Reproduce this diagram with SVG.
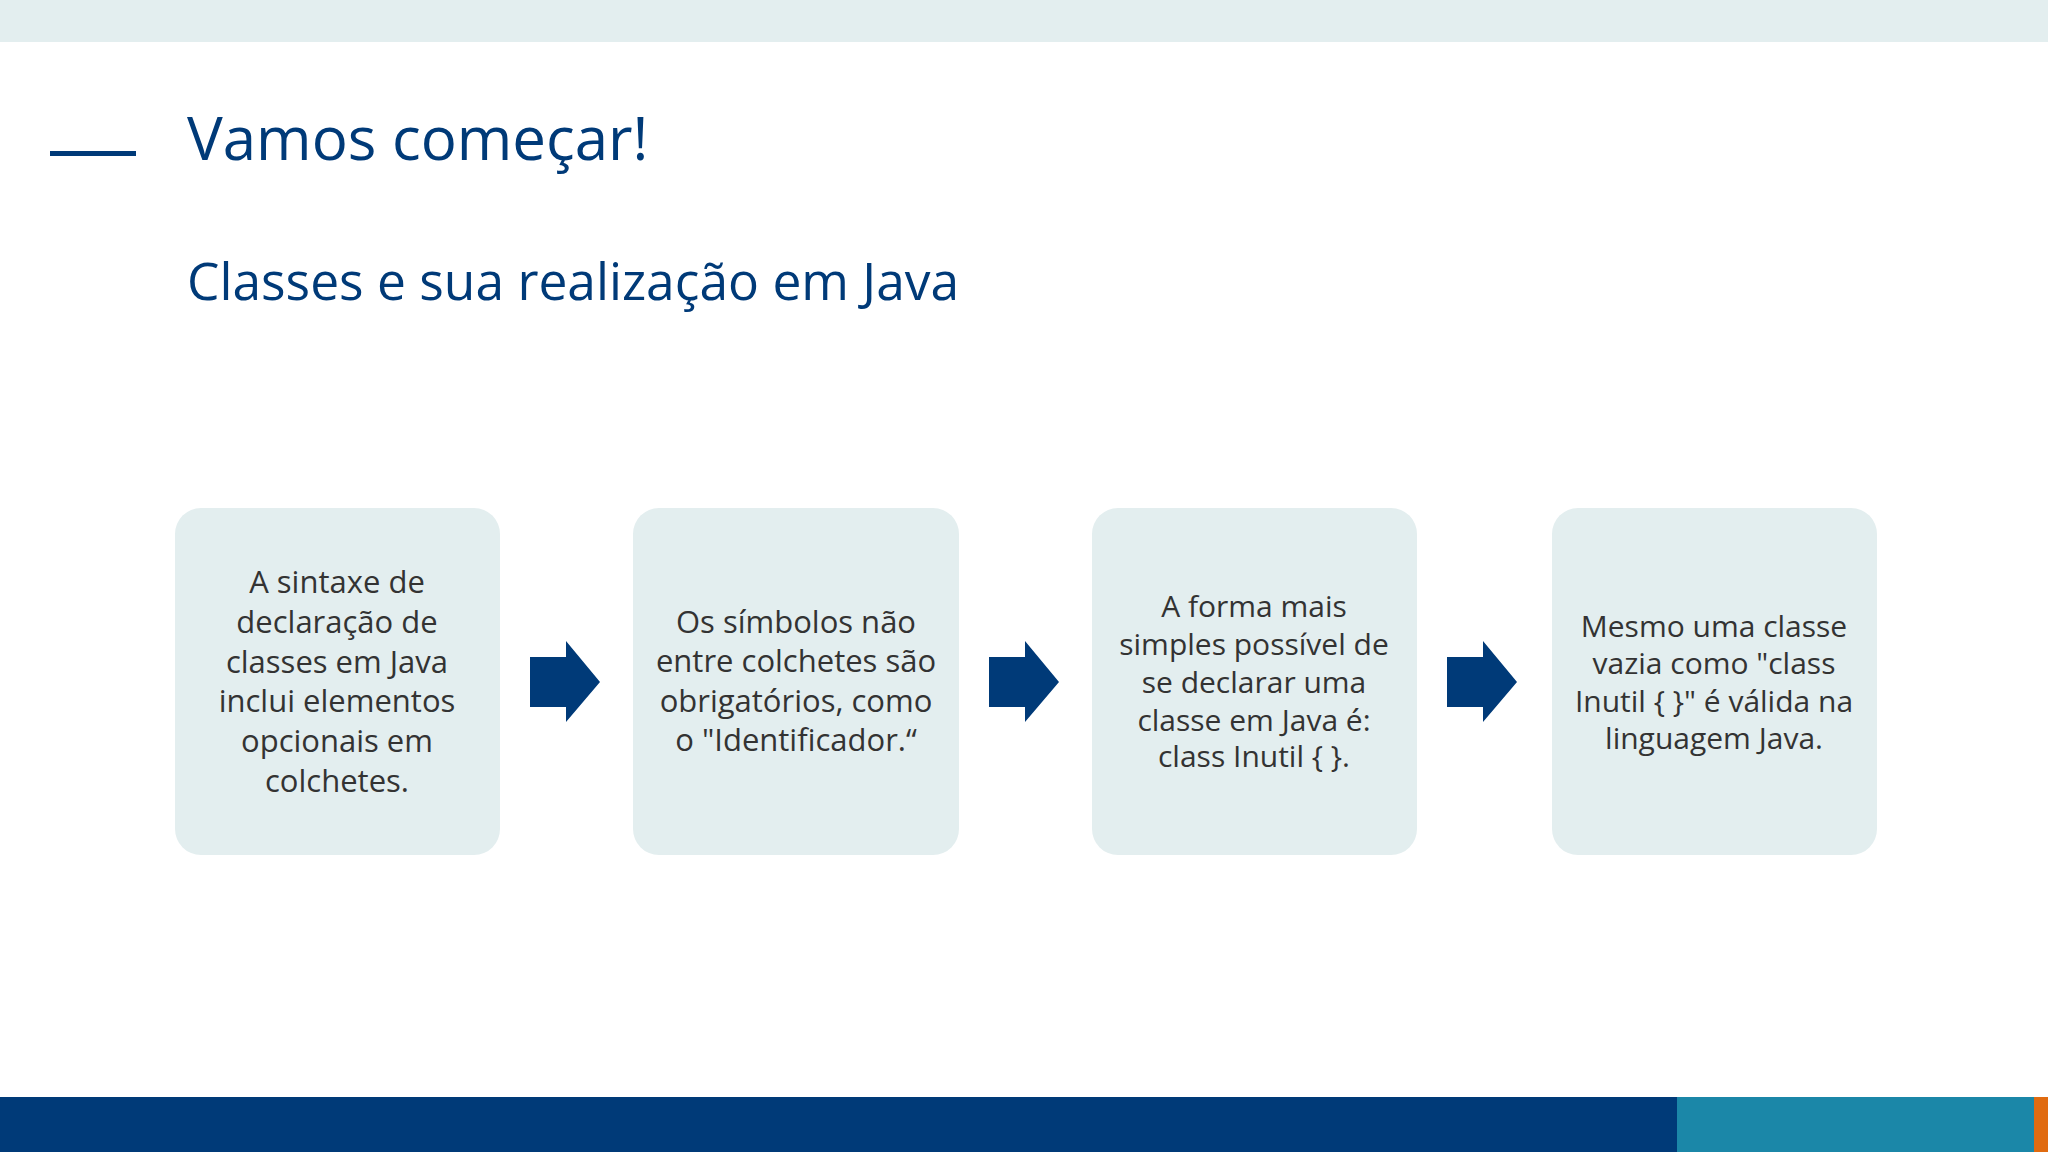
<svg xmlns="http://www.w3.org/2000/svg" width="2048" height="1152" viewBox="0 0 2048 1152">
<style>
.box{fill:#e3eeef}
.arr{fill:#003a78}
.t{font-family:"Open Sans","Liberation Sans",sans-serif;font-size:31px;fill:#333;text-anchor:middle}
.h{font-family:"Open Sans","Liberation Sans",sans-serif;fill:#003a78}
</style>
<rect width="2048" height="1152" fill="#fff"/>
<rect width="2048" height="42" fill="#e3eeef"/>
<rect x="50" y="151" width="86" height="5" fill="#003a78"/>
<text class="h" x="187" y="160" font-size="60">Vamos começar!</text>
<text class="h" x="187" y="300" font-size="51.5">Classes e sua realização em Java</text>
<g id="n1"><rect class="box" x="175" y="508" width="325" height="347" rx="26"/>
<text class="t"><tspan x="337" y="593">A sintaxe de</tspan><tspan x="337" y="633">declaração de</tspan><tspan x="337" y="673">classes em Java</tspan><tspan x="337" y="712">inclui elementos</tspan><tspan x="337" y="752">opcionais em</tspan><tspan x="337" y="792">colchetes.</tspan></text></g>
<g id="n2"><rect class="box" x="633" y="508" width="326" height="347" rx="26"/>
<text class="t"><tspan x="796" y="633">Os símbolos não</tspan><tspan x="796" y="672">entre colchetes são</tspan><tspan x="796" y="712">obrigatórios, como</tspan><tspan x="796" y="751">o "Identificador.“</tspan></text></g>
<g id="n3"><rect class="box" x="1092" y="508" width="325" height="347" rx="26"/>
<text class="t" style="font-size:30px"><tspan x="1254" y="617">A forma mais</tspan><tspan x="1254" y="655">simples possível de</tspan><tspan x="1254" y="693">se declarar uma</tspan><tspan x="1254" y="731">classe em Java é:</tspan><tspan x="1254" y="767">class Inutil { }.</tspan></text></g>
<g id="n4"><rect class="box" x="1552" y="508" width="325" height="347" rx="26"/>
<text class="t" style="font-size:30px"><tspan x="1714" y="637">Mesmo uma classe</tspan><tspan x="1714" y="674">vazia como "class</tspan><tspan x="1714" y="712">Inutil { }" é válida na</tspan><tspan x="1714" y="749">linguagem Java.</tspan></text></g>
<g id="connectors">
<polygon class="arr" points="530,657 566,657 566,641 600,682 566,722 566,707 530,707"/>
<polygon class="arr" points="989,657 1025,657 1025,641 1059,682 1025,722 1025,707 989,707"/>
<polygon class="arr" points="1447,657 1483,657 1483,641 1517,682 1483,722 1483,707 1447,707"/>
</g>
<rect y="1097" width="1677" height="55" fill="#003a78"/>
<rect x="1677" y="1097" width="357" height="55" fill="#1b87a8"/>
<rect x="2034" y="1097" width="14" height="55" fill="#e06b10"/>
</svg>
